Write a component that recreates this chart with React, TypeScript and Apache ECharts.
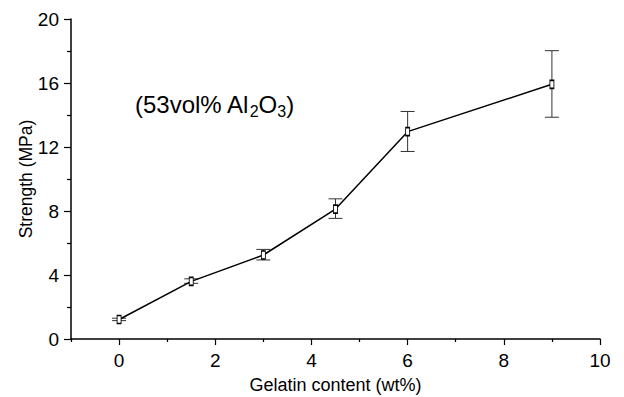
import React, { useEffect, useRef } from "react";
import * as echarts from "echarts";

const gelatin = [0, 1.5, 3, 4.5, 6, 9];
const strength = [1.22, 3.6, 5.25, 8.12, 12.96, 15.92];
const errLow = [1.15, 3.48, 4.94, 7.54, 11.72, 13.86];
const errHigh = [1.3, 3.76, 5.6, 8.76, 14.22, 18.02];
const xMajorTicks = [0, 2, 4, 6, 8, 10];
const xMinorTicks = [-1, 1, 3, 5, 7, 9];

const FONT = "'Liberation Sans', Arial, Helvetica, sans-serif";

export default function App() {
  const ref = useRef<HTMLDivElement>(null);
  useEffect(() => {
    if (!ref.current) return;
    const chart = echarts.init(ref.current, undefined, { renderer: "svg" });
    const lineData = gelatin.map((x, i) => [x, strength[i]]);
    const errData = gelatin.map((x, i) => [x, errLow[i], errHigh[i]]);
    chart.setOption({
      animation: false,
      backgroundColor: "#fff",
      textStyle: { fontFamily: FONT },
      grid: { left: 71, right: 24, top: 19, bottom: 58, containLabel: false, outerBoundsMode: "none" },
      xAxis: [
        {
          type: "value",
          min: -1,
          max: 10,
          name: "Gelatin content (wt%)",
          nameLocation: "middle",
          nameGap: 37,
          nameMoveOverlap: false,
          nameTextStyle: { fontSize: 18, color: "#000", fontFamily: FONT },
          axisLine: { onZero: false, lineStyle: { color: "#000", width: 1.5 } },
          axisTick: { show: true, length: 6, customValues: xMajorTicks, lineStyle: { color: "#000", width: 1.2 } },
          axisLabel: { customValues: xMajorTicks, fontSize: 19, color: "#000", margin: 12, fontFamily: FONT },
          splitLine: { show: false },
        },
        {
          type: "value",
          min: -1,
          max: 10,
          position: "bottom",
          axisLine: { show: false, onZero: false },
          axisTick: { show: true, length: 3, customValues: xMinorTicks, lineStyle: { color: "#000", width: 1.2 } },
          axisLabel: { show: false },
          splitLine: { show: false },
        },
      ],
      yAxis: {
        type: "value",
        min: 0,
        max: 20,
        interval: 4,
        name: "Strength (MPa)",
        nameLocation: "middle",
        nameGap: 36,
        nameMoveOverlap: false,
        nameTextStyle: { fontSize: 17.5, color: "#000", fontFamily: FONT },
        axisLine: { show: true, onZero: false, lineStyle: { color: "#000", width: 1.5 } },
        axisTick: { show: true, length: 7, lineStyle: { color: "#000", width: 1.2 } },
        minorTick: { show: true, splitNumber: 2, length: 4, lineStyle: { color: "#000", width: 1.2 } },
        axisLabel: { fontSize: 19, color: "#000", margin: 12, fontFamily: FONT },
        splitLine: { show: false },
      },
      graphic: [
        {
          type: "text",
          left: 135,
          top: 92,
          style: {
            text: "{a|(53vol% Al}{s|2}{a|O}{s|3}{a|)}",
            rich: {
              a: { fontSize: 24, lineHeight: 30, fill: "#000", fontFamily: FONT },
              s: { fontSize: 16, verticalAlign: "bottom", fill: "#000", fontFamily: FONT },
            },
          },
        },
      ],
      series: [
        {
          type: "custom",
          xAxisIndex: 0,
          data: errData,
          z: 1,
          renderItem: (params: any, api: any) => {
            const x = api.value(0);
            const lo = api.coord([x, api.value(1)]);
            const hi = api.coord([x, api.value(2)]);
            const hw = 7;
            const st = { stroke: "#333", lineWidth: 1 };
            return {
              type: "group",
              children: [
                { type: "line", shape: { x1: lo[0], y1: lo[1], x2: hi[0], y2: hi[1] }, style: st },
                { type: "line", shape: { x1: lo[0] - hw, y1: lo[1], x2: lo[0] + hw, y2: lo[1] }, style: st },
                { type: "line", shape: { x1: hi[0] - hw, y1: hi[1], x2: hi[0] + hw, y2: hi[1] }, style: st },
              ],
            };
          },
        },
        {
          type: "line",
          xAxisIndex: 0,
          data: lineData,
          z: 2,
          symbol: "rect",
          symbolSize: [4, 8],
          showSymbol: true,
          lineStyle: { color: "#000", width: 1.5 },
          itemStyle: { color: "#fff", borderColor: "#000", borderWidth: 1.2 },
        },
      ],
    });
    return () => chart.dispose();
  }, []);
  return <div ref={ref} style={{ width: 624, height: 397, position: "absolute", left: 0, top: 0 }} />;
}
